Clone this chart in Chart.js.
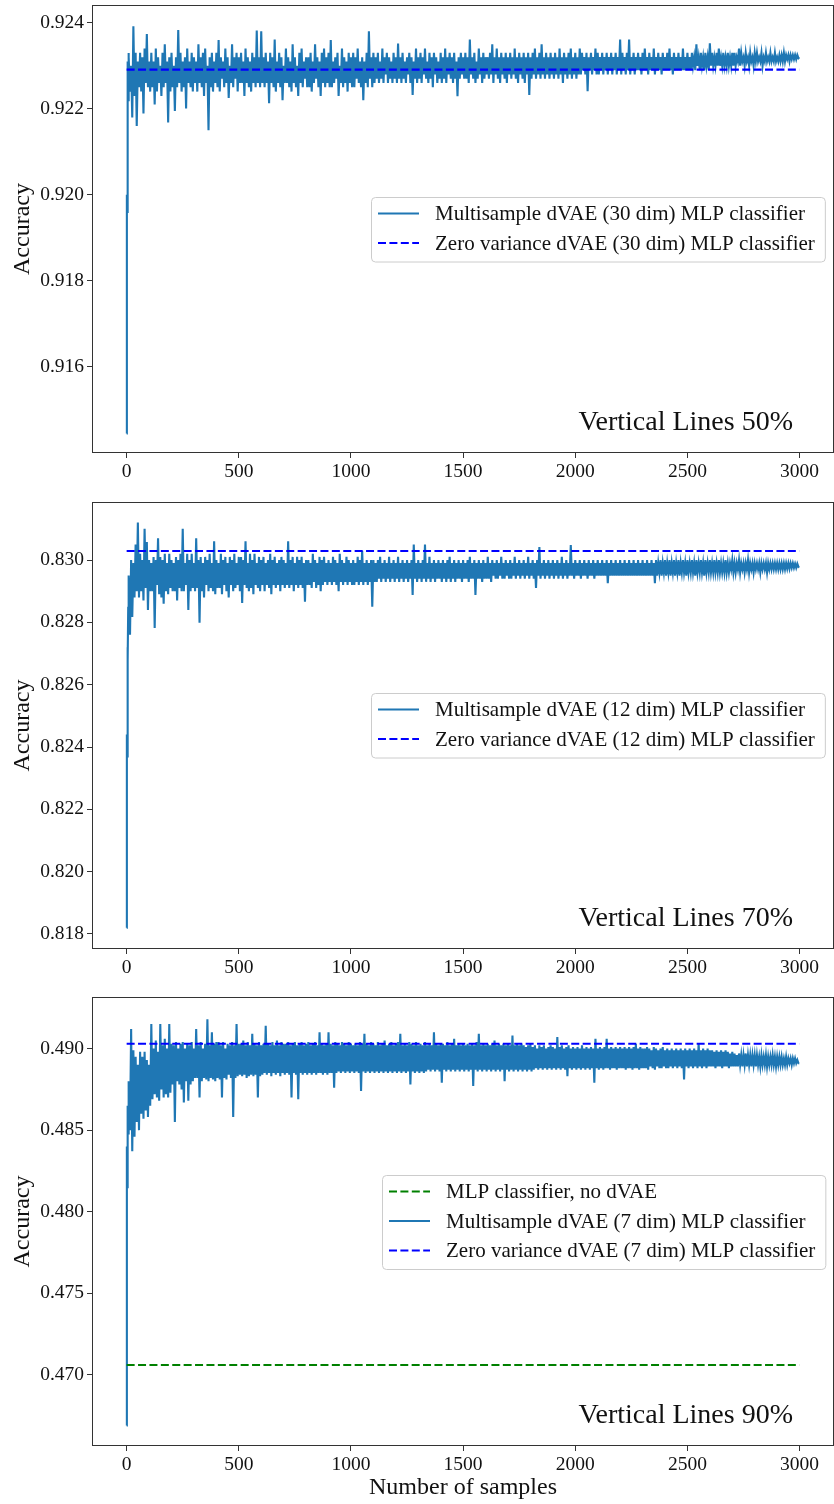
<!DOCTYPE html>
<html lang="en">
<head>
    <meta charset="UTF-8">
    <title>Accuracy vs number of samples</title>
    <script src="https://cdn.jsdelivr.net/npm/chart.js"></script>
    <style>
        body {
            margin: 0;
            background: #ffffff;
        }

        .panel {
            position: absolute;
            left: 0;
            width: 834px;
        }

        canvas {
            display: block;
        }
    </style>
</head>
<body>

    <div class="panel" style="top: 0px;"><canvas id="chart50" width="834" height="498"></canvas></div>
    <div class="panel" style="top: 497px;"><canvas id="chart70" width="834" height="498"></canvas></div>
    <div class="panel" style="top: 992px;"><canvas id="chart90" width="834" height="512"></canvas></div>

    <script>
        // sample index of each read-off value: 0..9 one by one, then every 5th, then the last one
        const samples = [0, 1, 2, 3, 4, 5, 6, 7, 8, 9];
        for (let s = 10; s <= 2995; s += 5) samples.push(s);
        samples.push(2999);

        const xTicks = [0, 500, 1000, 1500, 2000, 2500, 3000];
        const yTicks50 = [0.916, 0.918, 0.920, 0.922, 0.924];
        const yTicks70 = [0.818, 0.820, 0.822, 0.824, 0.826, 0.828, 0.830];
        const yTicks90 = [0.470, 0.475, 0.480, 0.485, 0.490];

        // Vertical Lines 50% - multisample dVAE (30 dim)
        const acc50 = [
            0.91445, 0.92000, 0.91960, 0.92150, 0.92240, 0.92180, 0.92310, 0.92220, 0.92280, 0.92330,
            0.92320, 0.92240, 0.92300, 0.92180, 0.92392, 0.92230, 0.92330, 0.92160, 0.92310, 0.92250, 0.92330, 0.92240, 0.92320, 0.92189, 0.92340, 0.92260, 0.92374, 0.92250, 0.92310, 0.92240,
            0.92330, 0.92250, 0.92310, 0.92210, 0.92340, 0.92240, 0.92320, 0.92260, 0.92300, 0.92230, 0.92330, 0.92250, 0.92350, 0.92260, 0.92310, 0.92168, 0.92320, 0.92240, 0.92330, 0.92250,
            0.92300, 0.92195, 0.92320, 0.92250, 0.92383, 0.92260, 0.92330, 0.92240, 0.92310, 0.92250, 0.92320, 0.92201, 0.92340, 0.92260, 0.92310, 0.92250, 0.92330, 0.92240, 0.92320, 0.92260,
            0.92310, 0.92240, 0.92350, 0.92260, 0.92320, 0.92250, 0.92330, 0.92230, 0.92340, 0.92260, 0.92300, 0.92150, 0.92320, 0.92250, 0.92330, 0.92240, 0.92310, 0.92260, 0.92330, 0.92250,
            0.92360, 0.92240, 0.92320, 0.92270, 0.92310, 0.92250, 0.92340, 0.92260, 0.92320, 0.92225, 0.92300, 0.92260, 0.92350, 0.92250, 0.92320, 0.92270, 0.92330, 0.92240, 0.92320, 0.92260,
            0.92330, 0.92260, 0.92310, 0.92230, 0.92340, 0.92260, 0.92320, 0.92250, 0.92310, 0.92240, 0.92330, 0.92260, 0.92320, 0.92250, 0.92382, 0.92260, 0.92320, 0.92250, 0.92380, 0.92260,
            0.92320, 0.92250, 0.92330, 0.92260, 0.92310, 0.92213, 0.92330, 0.92260, 0.92320, 0.92250, 0.92361, 0.92240, 0.92310, 0.92260, 0.92330, 0.92250, 0.92320, 0.92220, 0.92300, 0.92260,
            0.92340, 0.92260, 0.92320, 0.92250, 0.92310, 0.92240, 0.92350, 0.92260, 0.92320, 0.92250, 0.92300, 0.92230, 0.92330, 0.92260, 0.92340, 0.92250, 0.92310, 0.92270, 0.92320, 0.92250,
            0.92320, 0.92250, 0.92330, 0.92240, 0.92310, 0.92260, 0.92350, 0.92270, 0.92320, 0.92250, 0.92310, 0.92230, 0.92330, 0.92260, 0.92340, 0.92250, 0.92320, 0.92260, 0.92330, 0.92250,
            0.92360, 0.92250, 0.92310, 0.92260, 0.92320, 0.92270, 0.92330, 0.92230, 0.92300, 0.92260, 0.92340, 0.92250, 0.92320, 0.92260, 0.92310, 0.92240, 0.92330, 0.92260, 0.92320, 0.92250,
            0.92330, 0.92250, 0.92320, 0.92270, 0.92340, 0.92260, 0.92310, 0.92250, 0.92320, 0.92220, 0.92310, 0.92260, 0.92330, 0.92250, 0.92380, 0.92270, 0.92320, 0.92250, 0.92330, 0.92260,
            0.92320, 0.92270, 0.92330, 0.92260, 0.92310, 0.92270, 0.92340, 0.92260, 0.92320, 0.92280, 0.92330, 0.92260, 0.92320, 0.92270, 0.92310, 0.92260, 0.92330, 0.92270, 0.92320, 0.92260,
            0.92352, 0.92270, 0.92320, 0.92260, 0.92330, 0.92270, 0.92310, 0.92260, 0.92320, 0.92280, 0.92330, 0.92260, 0.92320, 0.92232, 0.92310, 0.92270, 0.92340, 0.92260, 0.92320, 0.92270,
            0.92330, 0.92260, 0.92320, 0.92280, 0.92340, 0.92270, 0.92310, 0.92260, 0.92330, 0.92270, 0.92320, 0.92250, 0.92330, 0.92280, 0.92320, 0.92260, 0.92310, 0.92270, 0.92330, 0.92260,
            0.92320, 0.92270, 0.92340, 0.92260, 0.92320, 0.92280, 0.92330, 0.92270, 0.92320, 0.92260, 0.92330, 0.92270, 0.92310, 0.92229, 0.92320, 0.92270, 0.92330, 0.92280, 0.92320, 0.92270,
            0.92330, 0.92270, 0.92320, 0.92260, 0.92361, 0.92280, 0.92320, 0.92270, 0.92330, 0.92260, 0.92310, 0.92270, 0.92340, 0.92280, 0.92320, 0.92260, 0.92330, 0.92270, 0.92320, 0.92280,
            0.92320, 0.92270, 0.92330, 0.92280, 0.92350, 0.92260, 0.92320, 0.92280, 0.92340, 0.92270, 0.92320, 0.92260, 0.92330, 0.92280, 0.92320, 0.92270, 0.92330, 0.92260, 0.92320, 0.92280,
            0.92330, 0.92270, 0.92320, 0.92280, 0.92340, 0.92270, 0.92320, 0.92260, 0.92330, 0.92280, 0.92320, 0.92270, 0.92330, 0.92260, 0.92320, 0.92280, 0.92330, 0.92232, 0.92320, 0.92270,
            0.92330, 0.92280, 0.92340, 0.92270, 0.92320, 0.92280, 0.92330, 0.92270, 0.92350, 0.92280, 0.92320, 0.92270, 0.92330, 0.92280, 0.92320, 0.92270, 0.92330, 0.92280, 0.92320, 0.92270,
            0.92330, 0.92280, 0.92320, 0.92270, 0.92340, 0.92280, 0.92320, 0.92260, 0.92330, 0.92280, 0.92320, 0.92270, 0.92330, 0.92280, 0.92340, 0.92270, 0.92320, 0.92280, 0.92330, 0.92270,
            0.92320, 0.92280, 0.92340, 0.92280, 0.92330, 0.92290, 0.92320, 0.92280, 0.92330, 0.92241, 0.92320, 0.92290, 0.92330, 0.92280, 0.92320, 0.92290, 0.92340, 0.92280, 0.92330, 0.92280,
            0.92320, 0.92290, 0.92330, 0.92280, 0.92320, 0.92290, 0.92330, 0.92280, 0.92320, 0.92290, 0.92330, 0.92280, 0.92320, 0.92290, 0.92330, 0.92280, 0.92320, 0.92290, 0.92361, 0.92280,
            0.92330, 0.92290, 0.92320, 0.92280, 0.92330, 0.92290, 0.92361, 0.92280, 0.92320, 0.92290, 0.92330, 0.92280, 0.92320, 0.92290, 0.92330, 0.92290, 0.92320, 0.92280, 0.92330, 0.92290,
            0.92340, 0.92290, 0.92320, 0.92280, 0.92330, 0.92290, 0.92320, 0.92290, 0.92340, 0.92280, 0.92320, 0.92290, 0.92330, 0.92290, 0.92320, 0.92280, 0.92330, 0.92290, 0.92320, 0.92290,
            0.92330, 0.92290, 0.92340, 0.92290, 0.92320, 0.92280, 0.92330, 0.92290, 0.92320, 0.92290, 0.92330, 0.92290, 0.92320, 0.92290, 0.92340, 0.92290, 0.92320, 0.92290, 0.92330, 0.92290,
            0.92320, 0.92290, 0.92330, 0.92300, 0.92320, 0.92290, 0.92350, 0.92300, 0.92320, 0.92290, 0.92330, 0.92300, 0.92320, 0.92290, 0.92330, 0.92300, 0.92320, 0.92290, 0.92352, 0.92300,
            0.92330, 0.92300, 0.92320, 0.92300, 0.92330, 0.92300, 0.92340, 0.92300, 0.92320, 0.92300, 0.92330, 0.92300, 0.92320, 0.92300, 0.92330, 0.92300, 0.92320, 0.92300, 0.92330, 0.92300,
            0.92330, 0.92300, 0.92320, 0.92310, 0.92340, 0.92300, 0.92330, 0.92310, 0.92320, 0.92300, 0.92330, 0.92310, 0.92320, 0.92300, 0.92330, 0.92310, 0.92320, 0.92300, 0.92330, 0.92310,
            0.92330, 0.92310, 0.92320, 0.92310, 0.92330, 0.92300, 0.92320, 0.92310, 0.92330, 0.92310, 0.92320, 0.92310, 0.92330, 0.92310, 0.92320, 0.92310, 0.92330, 0.92310, 0.92320, 0.92310,
            0.92325, 0.92310, 0.92325, 0.92310, 0.92330, 0.92310, 0.92325, 0.92315, 0.92325, 0.92310, 0.92325, 0.92315, 0.92325, 0.92315, 0.92325, 0.92315, 0.92325, 0.92318,
            0.92320
        ];
        const zeroVar50 = 0.92291;

        // Vertical Lines 70% - multisample dVAE (12 dim)
        const acc70 = [
            0.81820, 0.82440, 0.82370, 0.82460, 0.82600, 0.82720, 0.82680, 0.82850, 0.82760, 0.82950,
            0.82950, 0.82760, 0.83000, 0.82817, 0.82990, 0.82880, 0.83050, 0.82900, 0.83120, 0.82880, 0.83020, 0.82900, 0.83000, 0.82870, 0.83100, 0.82910, 0.83058, 0.82840, 0.83000, 0.82900,
            0.82990, 0.82900, 0.83010, 0.82782, 0.83000, 0.82920, 0.83070, 0.82890, 0.83010, 0.82880, 0.83000, 0.82860, 0.83020, 0.82900, 0.82990, 0.82890, 0.83020, 0.82910, 0.83000, 0.82900,
            0.82990, 0.82900, 0.83010, 0.82870, 0.83000, 0.82910, 0.83020, 0.82900, 0.83100, 0.82900, 0.82990, 0.82920, 0.83020, 0.82840, 0.83000, 0.82900, 0.83020, 0.82910, 0.82990, 0.82900,
            0.83070, 0.82910, 0.83000, 0.82799, 0.83010, 0.82900, 0.82990, 0.82880, 0.83010, 0.82920, 0.83000, 0.82900, 0.83020, 0.82910, 0.82990, 0.82900, 0.83060, 0.82890, 0.83000, 0.82910,
            0.82990, 0.82910, 0.83020, 0.82890, 0.83000, 0.82920, 0.83010, 0.82900, 0.82990, 0.82880, 0.83010, 0.82920, 0.83000, 0.82900, 0.83020, 0.82910, 0.82990, 0.82920, 0.83010, 0.82900,
            0.83010, 0.82862, 0.83000, 0.82920, 0.83060, 0.82910, 0.82990, 0.82900, 0.83020, 0.82910, 0.83000, 0.82890, 0.83020, 0.82920, 0.82990, 0.82910, 0.83010, 0.82900, 0.83000, 0.82920,
            0.83010, 0.82900, 0.82990, 0.82920, 0.83000, 0.82910, 0.83020, 0.82890, 0.83000, 0.82920, 0.83010, 0.82910, 0.82990, 0.82920, 0.83000, 0.82900, 0.83010, 0.82920, 0.83000, 0.82910,
            0.82990, 0.82920, 0.83060, 0.82910, 0.83000, 0.82920, 0.83010, 0.82900, 0.82990, 0.82920, 0.83010, 0.82910, 0.83000, 0.82920, 0.83010, 0.82910, 0.82990, 0.82866, 0.83000, 0.82920,
            0.83000, 0.82920, 0.82990, 0.82910, 0.83020, 0.82930, 0.83000, 0.82910, 0.82990, 0.82920, 0.83010, 0.82900, 0.83000, 0.82920, 0.83010, 0.82930, 0.82990, 0.82920, 0.83000, 0.82930,
            0.82990, 0.82920, 0.83010, 0.82930, 0.83000, 0.82920, 0.82990, 0.82900, 0.83020, 0.82930, 0.83000, 0.82920, 0.82990, 0.82930, 0.83010, 0.82920, 0.83000, 0.82930, 0.82990, 0.82920,
            0.83000, 0.82920, 0.82990, 0.82930, 0.83010, 0.82920, 0.83000, 0.82930, 0.83030, 0.82920, 0.82990, 0.82930, 0.83000, 0.82920, 0.82990, 0.82930, 0.83000, 0.82850, 0.83000, 0.82930,
            0.82990, 0.82930, 0.83000, 0.82940, 0.83010, 0.82930, 0.82990, 0.82940, 0.83000, 0.82930, 0.82990, 0.82940, 0.83010, 0.82930, 0.82990, 0.82940, 0.83000, 0.82930, 0.82990, 0.82940,
            0.83010, 0.82930, 0.82990, 0.82940, 0.83000, 0.82930, 0.82990, 0.82940, 0.83000, 0.82930, 0.82990, 0.82940, 0.83000, 0.82888, 0.83050, 0.82940, 0.82990, 0.82930, 0.83000, 0.82940,
            0.82990, 0.82930, 0.83000, 0.82940, 0.83050, 0.82930, 0.82990, 0.82940, 0.83010, 0.82930, 0.82990, 0.82940, 0.83000, 0.82930, 0.82990, 0.82940, 0.83000, 0.82940, 0.82990, 0.82930,
            0.83000, 0.82940, 0.82990, 0.82930, 0.83000, 0.82940, 0.83010, 0.82930, 0.82990, 0.82940, 0.83000, 0.82930, 0.82990, 0.82940, 0.83000, 0.82940, 0.82990, 0.82930, 0.83000, 0.82940,
            0.82990, 0.82940, 0.83000, 0.82930, 0.83010, 0.82940, 0.82990, 0.82940, 0.83000, 0.82888, 0.82990, 0.82940, 0.83000, 0.82940, 0.82990, 0.82930, 0.83000, 0.82940, 0.82990, 0.82940,
            0.83010, 0.82940, 0.82990, 0.82930, 0.83000, 0.82950, 0.82990, 0.82940, 0.83000, 0.82940, 0.82990, 0.82950, 0.83010, 0.82940, 0.82990, 0.82940, 0.83000, 0.82950, 0.82990, 0.82940,
            0.83000, 0.82940, 0.82990, 0.82950, 0.83010, 0.82940, 0.82990, 0.82950, 0.83000, 0.82940, 0.82990, 0.82950, 0.83000, 0.82940, 0.82990, 0.82950, 0.83010, 0.82940, 0.82990, 0.82950,
            0.83000, 0.82940, 0.82990, 0.82910, 0.83000, 0.82950, 0.83042, 0.82940, 0.82990, 0.82950, 0.83000, 0.82940, 0.82990, 0.82950, 0.83000, 0.82940, 0.82990, 0.82950, 0.83000, 0.82940,
            0.82990, 0.82950, 0.83000, 0.82940, 0.82990, 0.82950, 0.83010, 0.82940, 0.82990, 0.82950, 0.83000, 0.82940, 0.82990, 0.82950, 0.83048, 0.82950, 0.82990, 0.82940, 0.83000, 0.82950,
            0.82990, 0.82950, 0.83000, 0.82940, 0.82990, 0.82950, 0.83000, 0.82950, 0.82990, 0.82940, 0.83000, 0.82950, 0.82990, 0.82950, 0.83000, 0.82940, 0.82990, 0.82950, 0.83000, 0.82950,
            0.82990, 0.82950, 0.83000, 0.82950, 0.82990, 0.82950, 0.83000, 0.82926, 0.82990, 0.82950, 0.83000, 0.82950, 0.82990, 0.82950, 0.83000, 0.82950, 0.82990, 0.82950, 0.83000, 0.82950,
            0.82990, 0.82950, 0.83000, 0.82950, 0.82990, 0.82950, 0.83000, 0.82950, 0.82990, 0.82950, 0.83000, 0.82950, 0.82990, 0.82950, 0.83000, 0.82950, 0.82990, 0.82950, 0.83000, 0.82950,
            0.82990, 0.82950, 0.83000, 0.82950, 0.82990, 0.82950, 0.83000, 0.82950, 0.82990, 0.82926, 0.83000, 0.82950, 0.82990, 0.82960, 0.83000, 0.82950, 0.82990, 0.82960, 0.83000, 0.82950,
            0.82990, 0.82960, 0.83000, 0.82950, 0.82990, 0.82960, 0.83000, 0.82950, 0.82990, 0.82960, 0.83000, 0.82950, 0.82990, 0.82960, 0.83000, 0.82960, 0.82990, 0.82950, 0.83000, 0.82960,
            0.82990, 0.82960, 0.83000, 0.82960, 0.82990, 0.82950, 0.83000, 0.82960, 0.82990, 0.82960, 0.83000, 0.82960, 0.82990, 0.82950, 0.83000, 0.82960, 0.82990, 0.82960, 0.83000, 0.82960,
            0.82990, 0.82960, 0.83000, 0.82960, 0.82990, 0.82960, 0.83000, 0.82960, 0.82990, 0.82960, 0.82990, 0.82960, 0.83000, 0.82960, 0.82990, 0.82960, 0.82990, 0.82970, 0.83000, 0.82960,
            0.82990, 0.82960, 0.82990, 0.82970, 0.83000, 0.82960, 0.82990, 0.82970, 0.82990, 0.82960, 0.82990, 0.82970, 0.83000, 0.82960, 0.82990, 0.82970, 0.82990, 0.82960, 0.82990, 0.82970,
            0.82990, 0.82970, 0.82990, 0.82960, 0.82990, 0.82970, 0.82990, 0.82970, 0.82990, 0.82960, 0.82990, 0.82970, 0.82990, 0.82970, 0.82990, 0.82970, 0.82990, 0.82970, 0.82990, 0.82970,
            0.82990, 0.82970, 0.82990, 0.82970, 0.82990, 0.82970, 0.82990, 0.82972, 0.82990, 0.82972, 0.82990, 0.82975, 0.82990, 0.82975, 0.82988, 0.82975, 0.82988, 0.82978,
            0.82980
        ];
        const zeroVar70 = 0.83029;

        // Vertical Lines 90% - multisample dVAE (7 dim)
        const acc90 = [
            0.4669, 0.4840, 0.4815, 0.4852, 0.4865, 0.4838, 0.4862, 0.4848, 0.4870, 0.4855,
            0.4880, 0.4850, 0.4912, 0.4837, 0.4899, 0.4846, 0.4895, 0.4855, 0.4890, 0.4850, 0.4898, 0.4860, 0.4895, 0.4857, 0.4898, 0.4862, 0.4893, 0.4858, 0.4890, 0.4865,
            0.4915, 0.4869, 0.4900, 0.4872, 0.4905, 0.4870, 0.4898, 0.4868, 0.4915, 0.4875, 0.4902, 0.4870, 0.4906, 0.4872, 0.4900, 0.4870, 0.4915, 0.4873, 0.4903, 0.4878,
            0.4902, 0.4855, 0.4904, 0.4880, 0.4900, 0.4878, 0.4903, 0.4875, 0.4904, 0.4867, 0.4900, 0.4880, 0.4903, 0.4868, 0.4902, 0.4878, 0.4904, 0.4880, 0.4900, 0.4882,
            0.4912, 0.4882, 0.4902, 0.4870, 0.4904, 0.4880, 0.4900, 0.4882, 0.4903, 0.4881, 0.4918, 0.4880, 0.4902, 0.4882, 0.4910, 0.4881, 0.4903, 0.4880, 0.4904, 0.4882,
            0.4904, 0.4881, 0.4902, 0.4870, 0.4904, 0.4882, 0.4900, 0.4881, 0.4903, 0.4884, 0.4902, 0.4882, 0.4904, 0.4858, 0.4902, 0.4882, 0.4915, 0.4883, 0.4903, 0.4884,
            0.4903, 0.4883, 0.4905, 0.4884, 0.4902, 0.4882, 0.4904, 0.4883, 0.4902, 0.4884, 0.4909, 0.4883, 0.4903, 0.4884, 0.4902, 0.4870, 0.4904, 0.4883, 0.4902, 0.4884,
            0.4903, 0.4885, 0.4914, 0.4884, 0.4903, 0.4885, 0.4902, 0.4883, 0.4904, 0.4885, 0.4902, 0.4884, 0.4905, 0.4885, 0.4902, 0.4883, 0.4904, 0.4885, 0.4903, 0.4884,
            0.4903, 0.4885, 0.4904, 0.4884, 0.4902, 0.4870, 0.4903, 0.4885, 0.4904, 0.4884, 0.4902, 0.4869, 0.4903, 0.4885, 0.4904, 0.4884, 0.4902, 0.4885, 0.4903, 0.4884,
            0.4904, 0.4885, 0.4902, 0.4884, 0.4903, 0.4885, 0.4904, 0.4884, 0.4902, 0.4885, 0.4910, 0.4885, 0.4903, 0.4884, 0.4902, 0.4885, 0.4903, 0.4884, 0.4910, 0.4885,
            0.4903, 0.4885, 0.4902, 0.4876, 0.4904, 0.4885, 0.4903, 0.4886, 0.4902, 0.4885, 0.4904, 0.4886, 0.4903, 0.4885, 0.4902, 0.4886, 0.4904, 0.4885, 0.4903, 0.4886,
            0.4902, 0.4885, 0.4903, 0.4886, 0.4902, 0.4885, 0.4904, 0.4874, 0.4903, 0.4886, 0.4909, 0.4885, 0.4903, 0.4886, 0.4902, 0.4885, 0.4904, 0.4886, 0.4903, 0.4885,
            0.4902, 0.4886, 0.4904, 0.4885, 0.4902, 0.4886, 0.4903, 0.4885, 0.4905, 0.4886, 0.4902, 0.4885, 0.4903, 0.4886, 0.4904, 0.4885, 0.4902, 0.4886, 0.4903, 0.4885,
            0.4904, 0.4886, 0.4909, 0.4885, 0.4902, 0.4886, 0.4903, 0.4885, 0.4902, 0.4886, 0.4904, 0.4878, 0.4903, 0.4886, 0.4902, 0.4885, 0.4904, 0.4886, 0.4902, 0.4885,
            0.4903, 0.4886, 0.4902, 0.4885, 0.4904, 0.4886, 0.4902, 0.4887, 0.4903, 0.4886, 0.4902, 0.4887, 0.4910, 0.4886, 0.4903, 0.4887, 0.4902, 0.4886, 0.4903, 0.4879,
            0.4903, 0.4887, 0.4902, 0.4886, 0.4904, 0.4887, 0.4902, 0.4886, 0.4903, 0.4887, 0.4906, 0.4886, 0.4902, 0.4887, 0.4903, 0.4886, 0.4902, 0.4887, 0.4903, 0.4886,
            0.4902, 0.4887, 0.4903, 0.4886, 0.4902, 0.4887, 0.4903, 0.4877, 0.4902, 0.4887, 0.4904, 0.4886, 0.4909, 0.4887, 0.4902, 0.4886, 0.4903, 0.4887, 0.4902, 0.4886,
            0.4903, 0.4887, 0.4902, 0.4886, 0.4903, 0.4887, 0.4905, 0.4886, 0.4902, 0.4887, 0.4903, 0.4886, 0.4902, 0.4887, 0.4903, 0.4880, 0.4902, 0.4887, 0.4903, 0.4886,
            0.4902, 0.4887, 0.4908, 0.4886, 0.4902, 0.4887, 0.4903, 0.4886, 0.4902, 0.4887, 0.4903, 0.4886, 0.4902, 0.4887, 0.4901, 0.4886, 0.4902, 0.4887, 0.4903, 0.4886,
            0.4901, 0.4887, 0.4902, 0.4888, 0.4900, 0.4887, 0.4902, 0.4888, 0.4901, 0.4887, 0.4902, 0.4888, 0.4900, 0.4887, 0.4901, 0.4888, 0.4902, 0.4887, 0.4901, 0.4888,
            0.4900, 0.4887, 0.4907, 0.4888, 0.4901, 0.4887, 0.4902, 0.4888, 0.4900, 0.4887, 0.4901, 0.4883, 0.4902, 0.4888, 0.4900, 0.4887, 0.4901, 0.4888, 0.4900, 0.4887,
            0.4901, 0.4888, 0.4900, 0.4887, 0.4902, 0.4888, 0.4900, 0.4887, 0.4901, 0.4888, 0.4900, 0.4887, 0.4901, 0.4888, 0.4900, 0.4879, 0.4906, 0.4888, 0.4900, 0.4887,
            0.4901, 0.4888, 0.4900, 0.4887, 0.4901, 0.4888, 0.4906, 0.4888, 0.4900, 0.4887, 0.4901, 0.4888, 0.4900, 0.4888, 0.4901, 0.4887, 0.4900, 0.4888, 0.4901, 0.4888,
            0.4900, 0.4888, 0.4901, 0.4887, 0.4900, 0.4888, 0.4901, 0.4888, 0.4900, 0.4887, 0.4901, 0.4888, 0.4903, 0.4888, 0.4900, 0.4887, 0.4901, 0.4888, 0.4900, 0.4888,
            0.4900, 0.4888, 0.4901, 0.4887, 0.4900, 0.4889, 0.4899, 0.4888, 0.4901, 0.4887, 0.4900, 0.4889, 0.4899, 0.4888, 0.4900, 0.4888, 0.4901, 0.4889, 0.4899, 0.4888,
            0.4900, 0.4888, 0.4899, 0.4889, 0.4900, 0.4888, 0.4899, 0.4889, 0.4900, 0.4888, 0.4899, 0.4889, 0.4900, 0.4888, 0.4899, 0.4881, 0.4900, 0.4889, 0.4899, 0.4888,
            0.4900, 0.4889, 0.4899, 0.4888, 0.4900, 0.4889, 0.4899, 0.4888, 0.4903, 0.4889, 0.4899, 0.4888, 0.4900, 0.4889, 0.4899, 0.4888, 0.4900, 0.4889, 0.4899, 0.4889,
            0.4899, 0.4889, 0.4898, 0.4888, 0.4899, 0.4889, 0.4898, 0.4889, 0.4899, 0.4888, 0.4898, 0.4889, 0.4899, 0.4889, 0.4898, 0.4888, 0.4897, 0.4889, 0.4898, 0.4889,
            0.4897, 0.4889, 0.4896, 0.4889, 0.4897, 0.4890, 0.4896, 0.4889, 0.4896, 0.4890, 0.4897, 0.4889, 0.4896, 0.4890, 0.4896, 0.4889, 0.4896, 0.4890, 0.4896, 0.4889,
            0.4896, 0.4890, 0.4895, 0.4889, 0.4896, 0.4890, 0.4895, 0.4890, 0.4896, 0.4889, 0.4895, 0.4890, 0.4895, 0.4890, 0.4896, 0.4890, 0.4895, 0.4889, 0.4895, 0.4890,
            0.4895, 0.4890, 0.4895, 0.4890, 0.4894, 0.4890, 0.4895, 0.4890, 0.4894, 0.4891, 0.4894, 0.4890, 0.4894, 0.4891, 0.4894, 0.4891, 0.4893, 0.4891,
            0.4891
        ];
        const zeroVar90 = 0.4903;
        const noDvae90 = 0.4706;

        const FONT = "'Liberation Serif', 'DejaVu Serif', serif";
        Chart.defaults.font.family = FONT;
        Chart.defaults.color = '#111111';

        function series(values) {
            return values.map((v, i) => ({ x: samples[i], y: v }));
        }

        function flat(v) {
            return [{ x: samples[0], y: v }, { x: samples[samples.length - 1], y: v }];
        }

        // matplotlib-like box around the axes plus the "Vertical Lines" note
        const frameAndNote = {
            id: 'frameAndNote',
            afterDraw(chart, args, opts) {
                const { ctx, chartArea: a } = chart;
                ctx.save();
                ctx.strokeStyle = '#333333';
                ctx.lineWidth = 1;
                ctx.strokeRect(a.left - 0.5, a.top - 0.5, a.right - a.left + 1, a.bottom - a.top + 1);
                ctx.fillStyle = '#111111';
                ctx.font = "28px " + FONT;
                ctx.textAlign = 'right';
                ctx.textBaseline = 'alphabetic';
                ctx.fillText(opts.text, a.left + 0.95 * (a.right - a.left) - 3, a.bottom - 0.05 * (a.bottom - a.top));
                ctx.restore();
            }
        };

        // legend box at "center right", in dataset order
        const legendBox = {
            id: 'legendBox',
            afterDraw(chart) {
                const { ctx, chartArea: a } = chart;
                const items = chart.data.datasets;
                ctx.save();
                ctx.font = "21px " + FONT;
                const textW = Math.max(...items.map(d => ctx.measureText(d.label).width));
                const rowH = 29.5;
                const w = 64 + textW + 10;
                const h = rowH * (items.length - 1) + 35;
                const x = Math.round(a.right - 8 - w);
                const y = Math.round((a.top + a.bottom) / 2 - h / 2);
                ctx.beginPath();
                ctx.roundRect(x + 0.5, y + 0.5, w, h, 4);
                ctx.fillStyle = 'rgba(255, 255, 255, 0.8)';
                ctx.fill();
                ctx.strokeStyle = '#cccccc';
                ctx.lineWidth = 1;
                ctx.stroke();
                items.forEach((d, i) => {
                    const cy = y + 16.5 + i * rowH;
                    ctx.beginPath();
                    ctx.setLineDash(d.borderDash || []);
                    ctx.strokeStyle = d.borderColor;
                    ctx.lineWidth = d.borderWidth;
                    ctx.moveTo(x + 7, cy);
                    ctx.lineTo(x + 48, cy);
                    ctx.stroke();
                    ctx.setLineDash([]);
                    ctx.fillStyle = '#111111';
                    ctx.textAlign = 'left';
                    ctx.textBaseline = 'middle';
                    ctx.fillText(d.label, x + 64, cy + 1);
                });
                ctx.restore();
            }
        };

        function multisample(label, values) {
            return {
                label: label,
                data: series(values),
                borderColor: '#1f77b4',
                borderWidth: 2.1,
                order: 2
            };
        }

        function dashed(label, value, color) {
            return {
                label: label,
                data: flat(value),
                borderColor: color,
                borderWidth: 2.1,
                borderDash: [8, 3.4],
                order: 1
            };
        }

        function makeChart(id, datasets, yMin, yMax, yTicks, note, xHeight, showXTitle) {
            const tickGrid = {
                drawOnChartArea: false,
                drawTicks: true,
                tickLength: 6,
                tickColor: '#333333',
                lineWidth: 1
            };
            return new Chart(document.getElementById(id), {
                type: 'line',
                data: { datasets: datasets },
                options: {
                    responsive: false,
                    animation: false,
                    parsing: false,
                    normalized: true,
                    layout: { padding: { top: 6, right: 1, bottom: 0, left: 0 } },
                    elements: {
                        point: { radius: 0 },
                        line: { tension: 0 }
                    },
                    plugins: {
                        legend: { display: false },
                        tooltip: { enabled: false },
                        frameAndNote: { text: note }
                    },
                    scales: {
                        x: {
                            type: 'linear',
                            min: -150,
                            max: 3149,
                            afterBuildTicks: s => { s.ticks = xTicks.map(v => ({ value: v })); },
                            afterFit: s => {
                                s.height = xHeight;
                                s.paddingLeft = 0;
                                s.paddingRight = 0;
                            },
                            ticks: {
                                callback: v => String(v),
                                font: { size: 19.5 },
                                color: '#111111',
                                padding: 2,
                                maxRotation: 0,
                                autoSkip: false
                            },
                            grid: tickGrid,
                            border: { display: false },
                            title: {
                                display: showXTitle,
                                text: 'Number of samples',
                                font: { size: 24 },
                                color: '#111111',
                                padding: { top: 0, bottom: 2 }
                            }
                        },
                        y: {
                            min: yMin,
                            max: yMax,
                            afterBuildTicks: s => { s.ticks = yTicks.map(v => ({ value: v })); },
                            afterFit: s => {
                                s.width = 93;
                                s.paddingTop = 0;
                                s.paddingBottom = 0;
                            },
                            ticks: {
                                callback: v => v.toFixed(3),
                                font: { size: 19.5 },
                                color: '#111111',
                                padding: 3,
                                autoSkip: false
                            },
                            grid: tickGrid,
                            border: { display: false },
                            title: {
                                display: true,
                                text: 'Accuracy',
                                font: { size: 24 },
                                color: '#111111',
                                padding: { top: 8, bottom: 0 }
                            }
                        }
                    }
                },
                plugins: [frameAndNote, legendBox]
            });
        }

        makeChart('chart50', [
            multisample('Multisample dVAE (30 dim) MLP classifier', acc50),
            dashed('Zero variance dVAE (30 dim) MLP classifier', zeroVar50, '#0000ff')
        ], 0.91402, 0.92439, yTicks50, 'Vertical Lines 50%', 46, false);

        makeChart('chart70', [
            multisample('Multisample dVAE (12 dim) MLP classifier', acc70),
            dashed('Zero variance dVAE (12 dim) MLP classifier', zeroVar70, '#0000ff')
        ], 0.81755, 0.83183, yTicks70, 'Vertical Lines 70%', 47, false);

        makeChart('chart90', [
            dashed('MLP classifier, no dVAE', noDvae90, '#008000'),
            multisample('Multisample dVAE (7 dim) MLP classifier', acc90),
            dashed('Zero variance dVAE (7 dim) MLP classifier', zeroVar90, '#0000ff')
        ], 0.4657, 0.4931, yTicks90, 'Vertical Lines 90%', 59, true);
    </script>
</body>
</html>
